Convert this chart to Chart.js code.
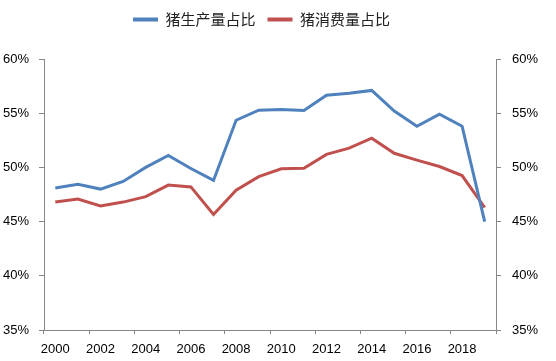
<!DOCTYPE html>
<html>
<head>
<meta charset="utf-8">
<script src="https://cdn.jsdelivr.net/npm/chart.js@4"></script>
<style>
  html, body { margin: 0; padding: 0; background: #fff; }
  #wrap { width: 556px; height: 361px; }
</style>
</head>
<body>
<div id="wrap"><canvas id="myChart"></canvas></div>
<script>
'use strict';

let years = ['2000', '2001', '2002', '2003', '2004', '2005', '2006', '2007', '2008', '2009',
  '2010', '2011', '2012', '2013', '2014', '2015', '2016', '2017', '2018', '2019'];

let productionShare = [48.1, 48.45, 48.0, 48.7, 50.0, 51.1, 49.9, 48.8, 54.35, 55.28,
  55.33, 55.25, 56.65, 56.85, 57.1, 55.2, 53.8, 54.9, 53.8, 45.0];

let consumptionShare = [46.8, 47.08, 46.45, 46.8, 47.3, 48.37, 48.2, 45.65, 47.9, 49.15,
  49.87, 49.93, 51.2, 51.78, 52.7, 51.3, 50.67, 50.08, 49.25, 46.3];

let seriesNames = ['猪生产量占比', '猪消费量占比'];
let yMin = 35;
let yMax = 60;
let yStep = 5;

const axisGray = '#868686';
const tickFont = { family: 'Liberation Sans', size: 13 };

function pct(v) {
  return v + '%';
}

// make the legend box taller so the plot starts lower, and nudge it left a bit
const legendSpace = {
  id: 'legendSpace',
  beforeInit(chart) {
    const fit = chart.legend.fit;
    const draw = chart.legend.draw;
    chart.legend.fit = function () {
      fit.call(this);
      this.height = 59;
    };
    chart.legend.draw = function () {
      const c = this.ctx;
      c.save();
      c.translate(-9, 0);
      draw.call(this);
      c.restore();
    };
  }
};

let ctx = document.getElementById('myChart').getContext('2d');
let myChart = new Chart(ctx, {
  type: 'line',
  data: {
    labels: years,
    datasets: [{
      label: seriesNames[0],
      data: productionShare,
      borderColor: '#4F81BD',
      backgroundColor: '#4F81BD',
      borderWidth: 3,
      pointRadius: 0,
      tension: 0
    },
    {
      label: seriesNames[1],
      data: consumptionShare,
      borderColor: '#C0504D',
      backgroundColor: '#C0504D',
      borderWidth: 3,
      pointRadius: 0,
      tension: 0
    }]
  },
  plugins: [legendSpace],
  options: {
    responsive: true,
    maintainAspectRatio: false,
    animation: false,
    layout: { padding: { top: 0, left: 3, right: 18, bottom: 3 } },
    plugins: {
      tooltip: { enabled: false },
      legend: {
        position: 'top',
        labels: {
          boxWidth: 25,
          boxHeight: 4,
          padding: 12,
          color: '#222',
          font: { family: 'Noto Sans CJK SC', size: 15 },
          generateLabels: function (chart) {
            let items = Chart.defaults.plugins.legend.labels.generateLabels(chart);
            items.forEach(function (it) { it.lineWidth = 0; });
            return items;
          }
        }
      }
    },
    scales: {
      x: {
        offset: true,
        afterFit: function (s) { s.height = 28; },
        grid: {
          offset: true,
          drawOnChartArea: false,
          tickLength: 4,
          color: function (c) {
            return (c.index === undefined || c.index % 2 === 0) ? axisGray : 'rgba(0,0,0,0)';
          }
        },
        border: { color: axisGray },
        ticks: {
          autoSkip: false,
          maxRotation: 0,
          color: '#000',
          font: tickFont,
          padding: 8,
          callback: function (v, i) {
            return i % 2 === 0 ? years[i] : '';
          }
        }
      },
      y: {
        position: 'left',
        min: yMin,
        max: yMax,
        afterFit: function (s) { s.width = 41; },
        grid: { drawOnChartArea: false, tickLength: 5, color: axisGray },
        border: { color: axisGray },
        ticks: { stepSize: yStep, color: '#000', font: tickFont, padding: 10, callback: pct }
      },
      y1: {
        position: 'right',
        min: yMin,
        max: yMax,
        afterFit: function (s) { s.width = 42; },
        grid: { drawOnChartArea: false, tickLength: 5, color: axisGray },
        border: { color: axisGray },
        ticks: { stepSize: yStep, color: '#000', font: tickFont, padding: 11, callback: pct }
      }
    }
  }
});
</script>
</body>
</html>
